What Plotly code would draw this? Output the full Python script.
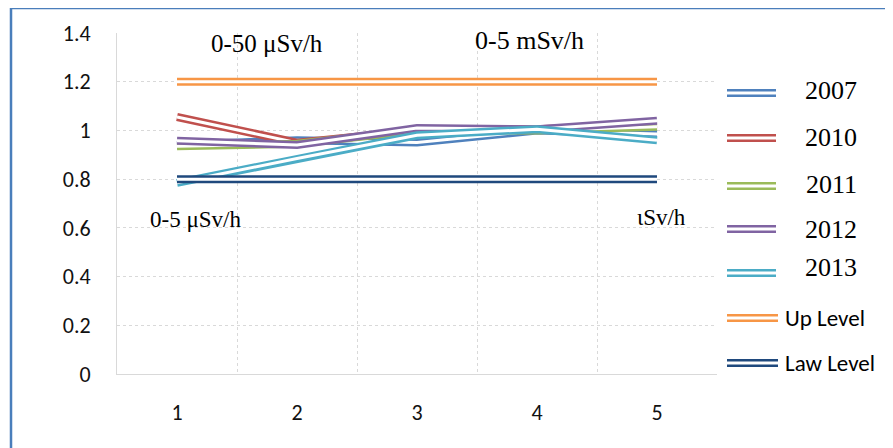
import plotly.graph_objects as go

# ---- data ----
categories = [1, 2, 3, 4, 5]
y2007 = [0.94, 0.96, 0.95, 1.00, 0.985]
y2010 = [1.055, 0.95, 1.00, 1.005, 1.025]
y2011 = [0.935, 0.945, 1.00, 1.00, 1.015]
y2012 = [0.958, 0.94, 1.01, 1.005, 1.04]
y2013 = [0.785, 0.885, 0.98, 1.005, 0.96]
up_level = [1.2, 1.2, 1.2, 1.2, 1.2]
law_level = [0.8, 0.8, 0.8, 0.8, 0.8]

series_names = ["2007", "2010", "2011", "2012", "2013", "Up Level", "Law Level"]
series_values = [y2007, y2010, y2011, y2012, y2013, up_level, law_level]
series_colors = ["#4F81BD", "#C0504D", "#9BBB59", "#8064A2", "#4BACC6", "#F79646", "#1F497D"]

# page body has an 8px default margin; work in window pixel coordinates
OFF = 8
W, H = 893 - OFF, 448 - OFF
PL, PR, PT, PB = 117, 717, 33, 374  # plot area in window pixels
L, T = PL - OFF, PT - OFF
R, B = W - (PR - OFF), H - (PB - OFF)
PW, PH = PR - PL, PB - PT


def px_x(x):
    return (x - PL) / PW


def px_y(y):
    return (PB - y) / PH


OUTER, INNER = 8, 3

fig = go.Figure()
for name, vals, col in zip(series_names, series_values, series_colors):
    fig.add_trace(go.Scatter(x=categories, y=vals, mode="lines", name=name,
                             line=dict(color=col, width=OUTER), showlegend=False,
                             hoverinfo="skip"))
    fig.add_trace(go.Scatter(x=categories, y=vals, mode="lines", name=name,
                             line=dict(color="white", width=INNER), showlegend=False,
                             hoverinfo="skip"))

shapes = []
annotations = []

# outer frame (top and left edges visible)
shapes.append(dict(type="line", xref="paper", yref="paper",
                   x0=px_x(11), x1=px_x(900), y0=px_y(8), y1=px_y(8),
                   line=dict(color="#4A7EBB", width=2.5)))
shapes.append(dict(type="line", xref="paper", yref="paper",
                   x0=px_x(11), x1=px_x(11), y0=px_y(8), y1=px_y(460),
                   line=dict(color="#4A7EBB", width=2.5)))

# manual legend with double-line swatches
legend_y = [93, 138, 186, 229, 273, 318, 363]
for i, (name, col) in enumerate(zip(series_names, series_colors)):
    x1 = 776 if i < 5 else 778
    for colr, wd in ((col, OUTER), ("white", INNER)):
        shapes.append(dict(type="line", xref="paper", yref="paper",
                           x0=px_x(727), x1=px_x(x1), y0=px_y(legend_y[i]), y1=px_y(legend_y[i]),
                           line=dict(color=colr, width=wd)))

year_label_y = [91, 137, 184, 230, 267]
for i in range(5):
    annotations.append(dict(xref="paper", yref="paper", x=px_x(831), y=px_y(year_label_y[i]),
                            text=series_names[i], showarrow=False, xanchor="center", yanchor="middle",
                            font=dict(family="Liberation Serif, Times New Roman, serif", size=26, color="black")))
for i in (5, 6):
    annotations.append(dict(xref="paper", yref="paper", x=px_x(783), y=px_y(legend_y[i]),
                            text=series_names[i], showarrow=False, xanchor="left", yanchor="middle",
                            font=dict(family="Carlito, Calibri, Lato, sans-serif", size=23, color="black")))

# text boxes inside the chart
serif = "Liberation Serif, Times New Roman, serif"
for txt, x, y, sz in (("0-50 μSv/h", 267, 44, 25), ("0-5 mSv/h", 529, 41, 26),
                      ("0-5 μSv/h", 195, 219, 23), ("ιSv/h", 661, 217, 23)):
    annotations.append(dict(xref="paper", yref="paper", x=px_x(x), y=px_y(y), text=txt,
                            showarrow=False, xanchor="center", yanchor="middle",
                            font=dict(family=serif, size=sz, color="black")))

grid_col = "#D9D9D9"
tick_font = dict(family="Carlito, Calibri, Lato, sans-serif", size=22, color="#111")
fig.update_layout(
    width=W, height=H,
    margin=dict(l=L, r=R, t=T, b=B, autoexpand=False),
    paper_bgcolor="white", plot_bgcolor="white",
    showlegend=False,
    shapes=shapes,
    annotations=annotations,
    xaxis=dict(range=[0.5, 5.5], tickvals=categories, ticktext=[str(c) for c in categories],
               showgrid=False, zeroline=False, showline=True, linecolor=grid_col, linewidth=1,
               ticks="", ticklabelstandoff=19, automargin=False,
               tickfont=tick_font,
               minor=dict(tickvals=[0.5, 1.5, 2.5, 3.5, 4.5, 5.5], showgrid=True,
                          gridcolor=grid_col, griddash="dot", gridwidth=1, ticks="")),
    yaxis=dict(range=[0, 1.4], tickvals=[0, 0.2, 0.4, 0.6, 0.8, 1, 1.2, 1.4],
               ticktext=["0", "0.2", "0.4", "0.6", "0.8", "1", "1.2", "1.4"],
               showgrid=True, gridcolor=grid_col, griddash="dot", gridwidth=1,
               zeroline=False, showline=True, linecolor=grid_col, linewidth=1,
               ticks="", ticklabelstandoff=21, automargin=False,
               tickfont=tick_font),
)

fig.write_html("out.html")
